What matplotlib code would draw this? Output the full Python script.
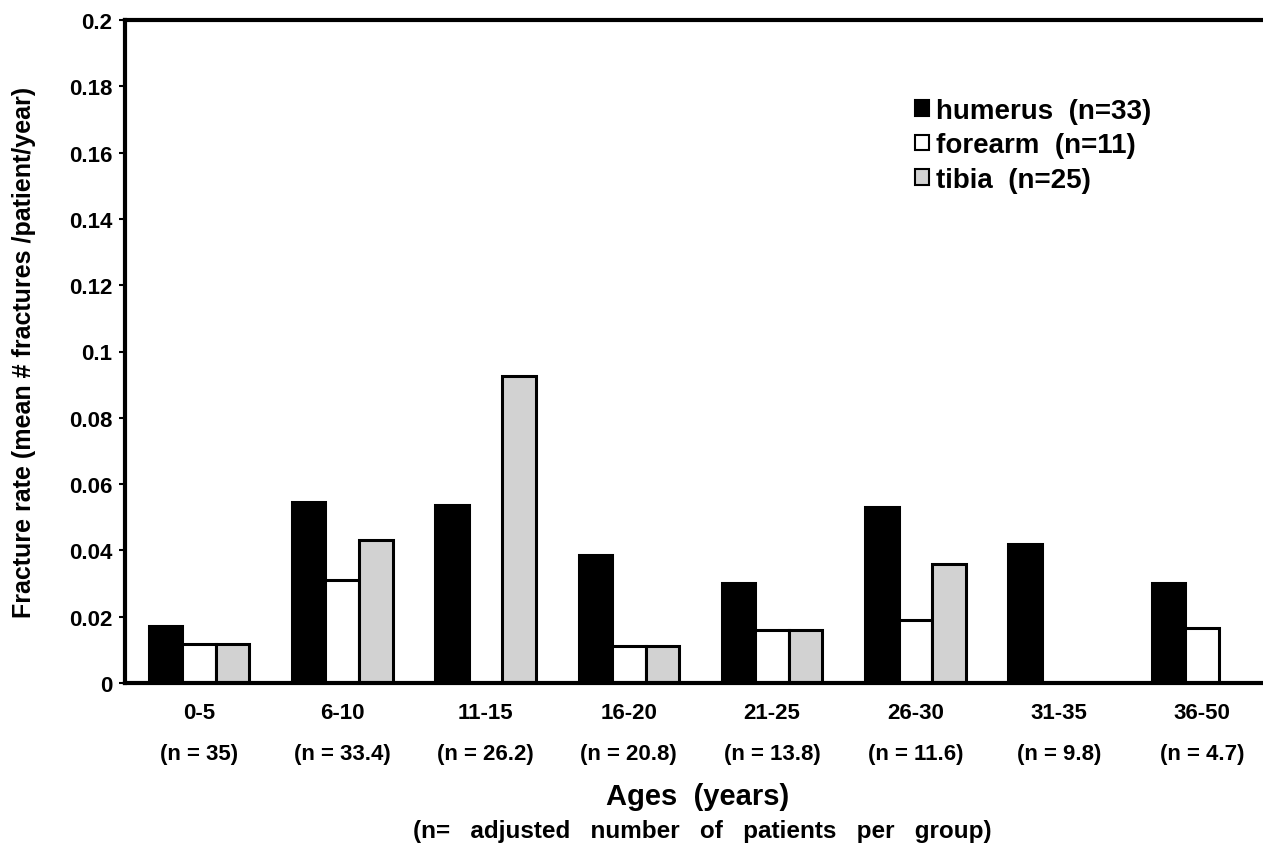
import numpy as np
import matplotlib.pyplot as plt
from matplotlib.patches import Patch
import matplotlib.transforms as mtransforms

plt.rcParams['font.family'] = ['Liberation Sans', 'DejaVu Sans']
plt.rcParams['font.weight'] = 'bold'

# ------------------------------------------
# DATA
# ------------------------------------------
age_groups = ["0-5", "6-10", "11-15", "16-20", "21-25", "26-30", "31-35", "36-50"]
group_n = ["(n = 35)", "(n = 33.4)", "(n = 26.2)", "(n = 20.8)",
           "(n = 13.8)", "(n = 11.6)", "(n = 9.8)", "(n = 4.7)"]
humerus = [0.0172, 0.0546, 0.0538, 0.0386, 0.0302, 0.0530, 0.0420, 0.0302]
forearm = [0.0118, 0.0310, 0.0000, 0.0112, 0.0160, 0.0190, 0.0000, 0.0166]
tibia = [0.0118, 0.0432, 0.0925, 0.0112, 0.0160, 0.0358, 0.0000, 0.0000]
series_labels = ["humerus  (n=33)", "forearm  (n=11)", "tibia  (n=25)"]

# ------------------------------------------
# FIGURE
# ------------------------------------------
fig = plt.figure(figsize=(12.63, 8.45), dpi=100)
ax = fig.add_axes([125 / 1263, 1 - 684 / 845, 1 - 125 / 1263, (684 - 21) / 845])

x = np.arange(len(age_groups))
w = 0.234
colors = ["black", "white", "#d2d2d2"]
for i, (vals, c) in enumerate(zip([humerus, forearm, tibia], colors)):
    ax.bar(x + (i - 1) * w, vals, w, color=c, edgecolor="black", linewidth=2.2)

ax.set_xlim(-0.516, 7.425)
ax.set_ylim(0, 0.2)
ax.set_yticks(np.arange(0, 0.201, 0.02))
ax.set_yticklabels(["0", "0.02", "0.04", "0.06", "0.08", "0.1",
                    "0.12", "0.14", "0.16", "0.18", "0.2"], fontsize=16)
ax.tick_params(axis="y", length=4, width=1.5, pad=5)

ax.set_xticks(x)
ax.set_xticklabels(age_groups, fontsize=16)
ax.tick_params(axis="x", length=0, pad=14)

trans = mtransforms.blended_transform_factory(ax.transData, fig.transFigure)
for xi, lab in zip(x, group_n):
    ax.text(xi, 1 - 755 / 845, lab, transform=trans, ha="center", va="center",
            fontsize=16)

for side in ["left", "bottom", "top"]:
    ax.spines[side].set_linewidth(3)
ax.spines["right"].set_visible(False)

fig.text(698 / 1263, 1 - 797 / 845, "Ages  (years)", ha="center", va="center",
         fontsize=21)
fig.text(702 / 1263, 1 - 832 / 845,
         "(n=   adjusted   number   of   patients   per   group)",
         ha="center", va="center", fontsize=17.5)
fig.text(24 / 1263, 1 - 352 / 845,
         "Fracture rate (mean # fractures /patient/year)",
         ha="center", va="center", rotation=90, fontsize=18)

handles = [Patch(facecolor=c, edgecolor="black", linewidth=1.5) for c in colors]
leg = ax.legend(handles, series_labels, loc="upper left",
                bbox_to_anchor=(890 / 1263, 1 - 74 / 845),
                bbox_transform=fig.transFigure,
                frameon=False, fontsize=20, handlelength=0.5, handleheight=0.5,
                handletextpad=0.25, labelspacing=0.3)

fig.savefig("out.png", dpi=100)
